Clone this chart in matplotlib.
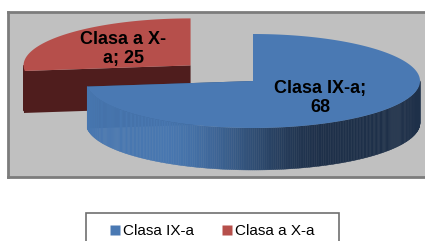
import numpy as np
import matplotlib
matplotlib.use("Agg")
import matplotlib.pyplot as plt
from matplotlib.patches import Polygon, Rectangle
from matplotlib.lines import Line2D
import matplotlib.colors as mcolors

# ── Data ──────────────────────────────────────────────────────────────────────
categories = ["Clasa IX-a", "Clasa a X-a"]
values = [68, 25]
slice_labels = ["Clasa IX-a;\n68", "Clasa a X-\na; 25"]
explode = [0.0, 0.5]

# ── Style ─────────────────────────────────────────────────────────────────────
top_colors = ["#4a79b3", "#b64f4b"]
face_colors = ["#2c4a70", "#4f1d1d"]
wall_light = ["#4877b0", "#4f1d1d"]
wall_dark = ["#1e3049", "#4f1d1d"]
TILT = 47 / 167        # vertical squash of the ellipse
DEPTH = 42 / 167       # thickness of the disc
LABEL_R = 0.54

plt.rcParams["font.family"] = ["Liberation Sans", "DejaVu Sans"]

W, H = 425, 241
fig = plt.figure(figsize=(W / 100, H / 100), dpi=100)

# plot area (pixel layout of the reference)
L, T, R, B = 8, 12, 440, 177
CX, CY, RAD = 253, 81, 167
ax = fig.add_axes([L / W, 1 - B / H, (R - L) / W, (B - T) / H])
ax.set_xlim((L - CX) / RAD, (R - CX) / RAD)
ax.set_ylim((CY - B) / RAD, (CY - T) / RAD)
ax.set_facecolor("#c0c0c0")
ax.set_xticks([]); ax.set_yticks([])
for s in ax.spines.values():
    s.set_color("#7c7c7c")
    s.set_linewidth(2)
ax.spines["right"].set_visible(False)


def rim(theta, off, z=0.0):
    return np.column_stack([off[0] + np.cos(theta),
                            off[1] + TILT * np.sin(theta) - z])


# angles: start at 12 o'clock, go clockwise
total = sum(values)
spans = [v / total * 2 * np.pi for v in values]
starts = np.pi / 2 - np.concatenate([[0], np.cumsum(spans)[:-1]])
ends = starts - np.array(spans)

slices = []
for i in range(len(values)):
    mid = (starts[i] + ends[i]) / 2
    off = (explode[i] * np.cos(mid), explode[i] * TILT * np.sin(mid))
    slices.append((i, starts[i], ends[i], mid, off))

# back-to-front: slices whose centre sits higher are drawn first
slices.sort(key=lambda s: -s[4][1])

for i, a0, a1, mid, off in slices:
    c_top = np.array([off[0], off[1]])
    c_bot = c_top - [0, DEPTH]
    # radial cut faces
    for a in (a0, a1):
        p_top = rim(np.array([a]), off)[0]
        p_bot = p_top - [0, DEPTH]
        ax.add_patch(Polygon([c_top, p_top, p_bot, c_bot], closed=True,
                             fc=face_colors[i], ec="none", zorder=2))
    # outer wall: only the front half (sin < 0) is visible
    th = np.linspace(a1, a0, 400)
    vis = np.sin(th) < 0
    light = np.array(mcolors.to_rgb(wall_light[i]))
    dark = np.array(mcolors.to_rgb(wall_dark[i]))
    for k in range(len(th) - 1):
        if not (vis[k] or vis[k + 1]):
            continue
        seg = th[k:k + 2]
        top = rim(seg, off)
        bot = rim(seg, off, DEPTH)
        t = np.clip((np.cos(seg.mean()) + 0.55) / 1.0, 0, 1)
        t = t * t * (3 - 2 * t)
        col = light * (1 - t) + dark * t
        ax.add_patch(Polygon(np.vstack([top, bot[::-1]]), closed=True,
                             fc=col, ec=col, lw=0.3, zorder=2))
    # top face
    ax.add_patch(Polygon(np.vstack([c_top, rim(th, off)]), closed=True,
                         fc=top_colors[i], ec="none", zorder=2))
    # data label
    lx = off[0] + LABEL_R * np.cos(mid)
    ly = off[1] + LABEL_R * TILT * np.sin(mid)
    ax.text(lx, ly, slice_labels[i], ha="center", va="center",
            fontsize=13, fontweight="bold", color="black",
            linespacing=1.15, zorder=5)

# ── Legend ────────────────────────────────────────────────────────────────────
handles = [Line2D([], [], marker="s", ls="", markersize=6.5,
                  markerfacecolor=top_colors[i], markeredgecolor="none")
           for i in range(len(categories))]
fig.legend(handles, categories, loc="center", bbox_to_anchor=(0.5, 1 - 231 / H),
           ncol=2, frameon=False, fontsize=11, handlelength=0.6,
           handletextpad=0.2, columnspacing=1.9, borderpad=0)
fig.add_artist(Rectangle((86 / W, -0.1), (339 - 86) / W, 0.1 + 1 - 213 / H,
                         transform=fig.transFigure, fc="none", ec="#6f6f6f",
                         lw=1.2))

fig.savefig("out.png", dpi=100)
